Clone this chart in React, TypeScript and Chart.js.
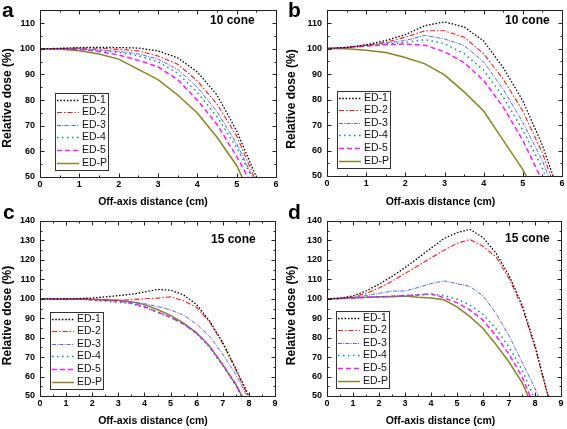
import React, { useEffect, useRef } from "react";
import { Chart, registerables } from "chart.js";

Chart.register(...registerables);

const LABELS = ["ED-1", "ED-2", "ED-3", "ED-4", "ED-5", "ED-P"];
const COLORS = ["#000000", "#ff1a1a", "#5566f5", "#138c8c", "#ff1aff", "#85852a"];
const DASHES: number[][] = [[1.5, 1.8], [5, 2, 1.5, 2], [4, 1.2, 1, 1.2], [1.5, 3.5], [5, 3], []];
const WIDTHS = [1.3, 1.1, 1, 1.5, 1.5, 1.5];

// x positions (cm)
const X_10 = [0, 0.5, 1, 1.5, 2, 2.5, 3, 3.5, 4, 4.5, 5, 5.5, 6];
const X_15 = [0, 0.5, 1, 1.5, 2, 2.5, 3, 3.5, 4, 4.5, 5, 5.5, 6, 6.5, 7, 7.5, 8, 8.5, 9];

// Panel a: 10 cone
const A_ED1 = [100, 100.2, 100.5, 100.6, 100.5, 100.3, 99.2, 96.5, 91, 82, 68, 50, null];
const A_ED2 = [100, 100.1, 100.3, 100.2, 99.8, 99.2, 97.2, 94, 87.5, 78.5, 66, 48, null];
const A_ED3 = [100, 100, 100, 99.6, 99, 98, 96, 92, 85, 75.5, 63, 47, null];
const A_ED4 = [100, 100, 99.9, 99.4, 98.6, 97.3, 95, 90.5, 83, 73.5, 61.5, 46.5, null];
const A_ED5 = [100, 99.9, 99.8, 99, 97.6, 95.5, 93, 88, 80, 70.5, 58, 44, null];
const A_EDP = [100, 99.8, 99.3, 98, 96, 92, 88, 82, 75, 65.5, 54.5, 38, null];

// Panel b: 10 cone
const B_ED1 = [100, 100.5, 101.5, 103.2, 105.5, 109, 110.5, 108.5, 103, 92.5, 79.5, 62, 40];
const B_ED2 = [100, 100.4, 101.2, 102.5, 104.5, 107, 107, 104.5, 98, 88, 75.5, 59, 38];
const B_ED3 = [100, 100.5, 101.3, 102.2, 103.2, 105.2, 103.8, 101.2, 94.8, 84, 71, 56, 36];
const B_ED4 = [100, 100.4, 101, 101.8, 102.5, 103.5, 102, 98, 91.5, 81, 68, 53, 33];
const B_ED5 = [100, 100.4, 101, 101.5, 101.8, 101.3, 98.8, 94.5, 87.5, 77, 64, 48, null];
const B_EDP = [100, 99.9, 99.4, 98.5, 96.5, 94, 89.7, 83, 75.5, 64, 52.5, 38, null];

// Panel c: 15 cone
const C_ED1 = [100, 100, 100, 100.1, 100.4, 101, 101.6, 102.3, 103.5, 104.8, 104.4, 102, 97, 88.5, 77.5, 64, 50, null, null];
const C_ED2 = [100, 99.8, 99.7, 100, 99.6, 99.4, 99.2, 99.6, 100, 100.3, 101, 99, 95.5, 88, 77, 63.5, 49, null, null];
const C_ED3 = [100, 100, 99.8, 99.9, 99.6, 99.3, 99, 98.3, 97.5, 96, 94.3, 91.5, 87, 80.5, 71.5, 61, 48, null, null];
const C_ED4 = [100, 99.8, 99.6, 99.8, 99.2, 98.7, 98.2, 97.5, 95.5, 93, 90.5, 87, 82, 75, 65.5, 55.5, 42, null, null];
const C_ED5 = [100, 100, 99.7, 100, 99.5, 99.3, 98.8, 97.7, 96, 93.2, 90.5, 87, 82.3, 75.5, 66, 56, 43, null, null];
const C_EDP = [100, 99.9, 99.7, 100, 99.7, 99.5, 99.2, 98.5, 97, 94.5, 91.5, 87.5, 82.5, 75.5, 66, 56, 43, null, null];

// Panel d: 15 cone
const D_ED1 = [100, 100.3, 101.5, 104, 107.5, 111.5, 116, 121, 126, 131, 134, 135.7, 131.5, 123.5, 112, 97, 76, 50, null];
const D_ED2 = [100, 100.2, 101, 102.8, 105.5, 109, 113, 117, 121, 125, 128.5, 130.5, 127, 121.5, 110.5, 96, 75, 50, null];
const D_ED3 = [100, 100.2, 100.6, 101.7, 102.8, 104, 104, 105.8, 107.8, 109.2, 107.8, 106.3, 101.5, 92.5, 81, 67.5, 54, 38, null];
const D_ED4 = [100, 100.1, 100.3, 100.7, 101, 101.3, 101.6, 102, 102.2, 101.7, 99.8, 96.8, 92, 84.6, 75.2, 63.5, 48, null, null];
const D_ED5 = [100, 100.1, 100.3, 100.7, 101, 101.3, 101.7, 102, 102.6, 100.5, 98, 94.2, 89, 81, 71.5, 60, 44, null, null];
const D_EDP = [100, 100.2, 100.5, 100.8, 101, 101.1, 101.4, 100.8, 100.4, 99.5, 95.8, 90.8, 84.7, 76.5, 67.5, 57, 42, null, null];

const FONT = '"Liberation Sans", Arial, Helvetica, sans-serif';

type Pt = { x: number; y: number };
type PanelCfg = {
  letter: string;
  cone: string;
  x: number[];
  series: (number | null)[][];
  xMax: number;
  yMax: number;
  left: number;
  top: number;
  w: number;
  h: number;
  area: { l: number; t: number; r: number; b: number };
  letterAt: Pt;
  coneAt: Pt;
  legendAt: Pt;
  xTitleAt: Pt;
  yTitleAt: Pt;
};

const PANELS: PanelCfg[] = [
  {
    letter: "a", cone: "10 cone", x: X_10,
    series: [A_ED1, A_ED2, A_ED3, A_ED4, A_ED5, A_EDP],
    xMax: 6, yMax: 115, left: 0, top: 0, w: 283, h: 214,
    area: { l: 40, t: 5, r: 276, b: 177 },
    letterAt: { x: 2, y: 17 }, coneAt: { x: 210, y: 21 }, legendAt: { x: 55, y: 93 },
    xTitleAt: { x: 153, y: 202 }, yTitleAt: { x: 8, y: 98 },
  },
  {
    letter: "b", cone: "10 cone", x: X_10,
    series: [B_ED1, B_ED2, B_ED3, B_ED4, B_ED5, B_EDP],
    xMax: 6, yMax: 115, left: 283, top: 0, w: 284, h: 214,
    area: { l: 44, t: 3, r: 279, b: 176 },
    letterAt: { x: 5, y: 17 }, coneAt: { x: 222, y: 21 }, legendAt: { x: 54, y: 91 },
    xTitleAt: { x: 157.5, y: 202 }, yTitleAt: { x: 8.5, y: 99 },
  },
  {
    letter: "c", cone: "15 cone", x: X_15,
    series: [C_ED1, C_ED2, C_ED3, C_ED4, C_ED5, C_EDP],
    xMax: 9, yMax: 140, left: 0, top: 200, w: 283, h: 229,
    area: { l: 40, t: 21, r: 275, b: 196 },
    letterAt: { x: 3, y: 19 }, coneAt: { x: 211, y: 40 }, legendAt: { x: 50, y: 112 },
    xTitleAt: { x: 153, y: 221 }, yTitleAt: { x: 8, y: 115.5 },
  },
  {
    letter: "d", cone: "15 cone", x: X_15,
    series: [D_ED1, D_ED2, D_ED3, D_ED4, D_ED5, D_EDP],
    xMax: 9, yMax: 140, left: 283, top: 200, w: 284, h: 229,
    area: { l: 44, t: 21, r: 278, b: 196 },
    letterAt: { x: 5, y: 19 }, coneAt: { x: 222, y: 39 }, legendAt: { x: 53, y: 111 },
    xTitleAt: { x: 157.5, y: 221 }, yTitleAt: { x: 8.5, y: 115.5 },
  },
];

const decorPlugin = {
  id: "decor",
  afterDraw(chart: any, _args: any, o: any) {
    const { ctx, chartArea: a, scales } = chart;
    const xs = scales.x;
    const ys = scales.y;
    ctx.save();
    ctx.strokeStyle = "#222";
    ctx.lineWidth = 1;
    ctx.setLineDash([]);
    const L = Math.round(a.left) + 0.5;
    const T = Math.round(a.top) + 0.5;
    const R = Math.round(a.right) + 0.5;
    const B = Math.round(a.bottom) + 0.5;
    ctx.strokeRect(L, T, R - L, B - T);
    ctx.beginPath();
    const isMajor = (v: number, step: number) => Math.abs(v / step - Math.round(v / step)) < 1e-6;
    for (let v = xs.min; v <= xs.max + 1e-9; v += 0.5) {
      const len = isMajor(v, 1) ? 4 : 2;
      const px = Math.round(xs.getPixelForValue(v)) + 0.5;
      ctx.moveTo(px, B); ctx.lineTo(px, B - len);
      ctx.moveTo(px, T); ctx.lineTo(px, T + len);
    }
    for (let v = ys.min; v <= ys.max + 1e-9; v += 5) {
      const len = isMajor(v, 10) ? 4 : 2;
      const py = Math.round(ys.getPixelForValue(v)) + 0.5;
      ctx.moveTo(L, py); ctx.lineTo(L + len, py);
      ctx.moveTo(R, py); ctx.lineTo(R - len, py);
    }
    ctx.stroke();

    // legend
    const lg = o.legendAt;
    const bw = 53, bh = 77, row0 = 6.5, gap = 12.6;
    ctx.fillStyle = "#fff";
    ctx.fillRect(lg.x + 0.5, lg.y + 0.5, bw, bh);
    ctx.strokeStyle = "#333";
    ctx.strokeRect(lg.x + 0.5, lg.y + 0.5, bw, bh);
    ctx.font = `10.5px ${FONT}`;
    ctx.textBaseline = "middle";
    ctx.textAlign = "left";
    chart.data.datasets.forEach((ds: any, i: number) => {
      const y = Math.round(lg.y + row0 + i * gap) + 0.5;
      ctx.strokeStyle = ds.borderColor;
      ctx.lineWidth = ds.borderWidth;
      ctx.setLineDash(ds.borderDash || []);
      ctx.beginPath();
      ctx.moveTo(lg.x + 2, y);
      ctx.lineTo(lg.x + 24, y);
      ctx.stroke();
      ctx.setLineDash([]);
      ctx.fillStyle = "#111";
      ctx.fillText(ds.label, lg.x + 27, y);
    });

    // cone label
    ctx.fillStyle = "#000";
    ctx.font = `bold 12px ${FONT}`;
    ctx.textBaseline = "middle";
    ctx.fillText(o.cone, o.coneAt.x, o.coneAt.y);

    // panel letter
    ctx.font = `bold 21px ${FONT}`;
    ctx.textBaseline = "alphabetic";
    ctx.fillText(o.letter, o.letterAt.x, o.letterAt.y);

    // axis titles
    ctx.font = `bold 10.5px ${FONT}`;
    ctx.textAlign = "center";
    ctx.textBaseline = "middle";
    ctx.fillText(o.xTitle, o.xTitleAt.x, o.xTitleAt.y);
    ctx.save();
    ctx.translate(o.yTitleAt.x, o.yTitleAt.y);
    ctx.rotate(-Math.PI / 2);
    ctx.font = `bold 12px ${FONT}`;
    ctx.fillText(o.yTitle, 0, 0);
    ctx.restore();
    ctx.restore();
  },
};

function Panel({ cfg }: { cfg: PanelCfg }) {
  const ref = useRef<HTMLCanvasElement>(null);
  useEffect(() => {
    const canvas = ref.current;
    if (!canvas) return;
    const tickFont = { family: FONT, size: 9, weight: "bold" as const };
    const chart = new Chart(canvas, {
      type: "line",
      data: {
        datasets: cfg.series.map((vals, i) => ({
          label: LABELS[i],
          data: cfg.x.map((xv, j) => ({ x: xv, y: vals[j] })),
          borderColor: COLORS[i],
          borderWidth: WIDTHS[i],
          borderDash: DASHES[i],
          pointRadius: 0,
          tension: 0,
          fill: false,
          clip: 0,
          spanGaps: false,
        })) as any,
      },
      options: {
        animation: false,
        responsive: false,
        maintainAspectRatio: false,
        events: [],
        layout: {
          autoPadding: false,
          padding: { top: cfg.area.t, right: cfg.w - cfg.area.r, left: 0, bottom: 0 },
        },
        plugins: {
          legend: { display: false },
          tooltip: { enabled: false },
          decor: {
            legendAt: cfg.legendAt,
            cone: cfg.cone,
            coneAt: cfg.coneAt,
            letter: cfg.letter,
            letterAt: cfg.letterAt,
            xTitle: "Off-axis distance (cm)",
            xTitleAt: cfg.xTitleAt,
            yTitle: "Relative dose (%)",
            yTitleAt: cfg.yTitleAt,
          },
        } as any,
        scales: {
          x: {
            type: "linear",
            min: 0,
            max: cfg.xMax,
            grid: { display: false, drawTicks: false },
            border: { display: false },
            ticks: {
              stepSize: 1,
              autoSkip: false,
              maxRotation: 0,
              includeBounds: false,
              padding: 2,
              color: "#000",
              font: tickFont,
            },
            afterFit: (s: any) => {
              s.height = cfg.h - cfg.area.b;
            },
          },
          y: {
            type: "linear",
            min: 50,
            max: cfg.yMax,
            grid: { display: false, drawTicks: false },
            border: { display: false },
            ticks: {
              stepSize: 10,
              autoSkip: false,
              includeBounds: false,
              padding: 5,
              color: "#000",
              font: tickFont,
              callback: (v: any) => (Number(v) % 10 === 0 ? String(v) : ""),
            },
            afterFit: (s: any) => {
              s.width = cfg.area.l;
            },
          },
        } as any,
      },
      plugins: [decorPlugin as any],
    });
    return () => chart.destroy();
  }, [cfg]);
  return (
    <canvas
      ref={ref}
      width={cfg.w}
      height={cfg.h}
      style={{ position: "absolute", left: cfg.left, top: cfg.top, width: cfg.w, height: cfg.h }}
    />
  );
}

export default function App() {
  return (
    <div style={{ position: "absolute", left: 0, top: 0, width: 567, height: 429, background: "#fff" }}>
      {PANELS.map((p) => (
        <Panel key={p.letter} cfg={p} />
      ))}
    </div>
  );
}
